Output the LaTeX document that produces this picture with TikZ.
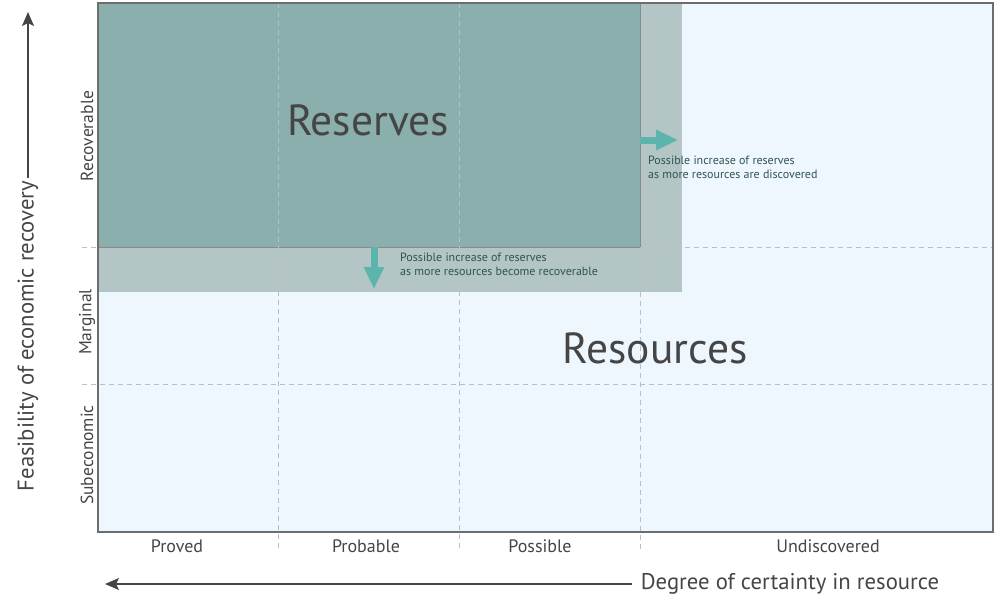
\documentclass[tikz,border=0pt]{standalone}
\usepackage{fontspec}
\setmainfont{PT Sans}
\usetikzlibrary{arrows.meta}
\definecolor{bgblue}{HTML}{EFF7FE}
\definecolor{resdark}{HTML}{8AAFAC}
\definecolor{reslight}{HTML}{B3C5C5}
\definecolor{frame}{HTML}{6B6D6E}
\definecolor{teal}{HTML}{5BB5AD}
\definecolor{annot}{HTML}{2F5550}
\definecolor{txt}{HTML}{454545}
\definecolor{grid}{HTML}{B8BEC2}
\tikzset{
  gridline/.style={draw=grid, dash pattern=on 5pt off 4pt, line width=0.8pt},
  collabel/.style={text=txt, font=\fontsize{18}{21}\selectfont},
  rowlabel/.style={text=txt, font=\fontsize{17.5}{21}\selectfont, rotate=90},
  axislabel/.style={text=txt, font=\fontsize{22.7}{26}\selectfont},
  biglabel/.style={text=txt, font=\fontsize{43.5}{50}\selectfont},
  annotation/.style={text=annot, font=\fontsize{12}{13.5}\selectfont, align=left, anchor=north west, inner sep=0pt},
  tealarrow/.style={draw=teal, line width=7pt, -{Triangle[width=19pt,length=22pt]}},
  axisarrow/.style={draw=txt, line width=1.3pt, -{Stealth[length=14pt,width=12pt,inset=3pt]}}
}
\begin{document}
\begin{tikzpicture}[x=1pt,y=-1pt]
\useasboundingbox (0,0) rectangle (1000,598);
% background
\fill[bgblue] (98,3) rectangle (993,532);
% reserves
\fill[reslight] (98,3) rectangle (682,292);
\fill[resdark] (98,3) rectangle (640,247);
\draw[frame!80, line width=1pt] (98,247) -- (640,247) -- (640,3);
% grid
\draw[gridline] (278,3) -- (278,550);
\draw[gridline] (459,3) -- (459,550);
\draw[gridline] (640,247) -- (640,550);
\draw[gridline] (82,247) -- (98,247);
\draw[gridline] (640,247) -- (993,247);
\draw[gridline] (82,384) -- (993,384);
% frame
\draw[frame, line width=1.3pt] (98,3) rectangle (993,532);
% big labels
\node[biglabel] (reserves) at (368,120) {Reserves};
\node[biglabel] (resources) at (655,348) {Resources};
% teal arrows
\coordinate (rs) at (640,140);
\coordinate (re) at (678,140);
\draw[tealarrow] (rs) -- (re);
\coordinate (ds) at (374,247);
\coordinate (de) at (374,289);
\draw[tealarrow] (ds) -- (de);
\node[annotation] (ann1) at (648,156) {Possible increase of reserves\\as more resources are discovered};
\node[annotation] (ann2) at (400,253) {Possible increase of reserves\\as more resources become recoverable};
% column labels
\node[collabel] (proved) at (177,546) {Proved};
\node[collabel] (probable) at (366,546) {Probable};
\node[collabel] (possible) at (540,546) {Possible};
\node[collabel] (undisc) at (828,546) {Undiscovered};
% row labels
\node[rowlabel] (recov) at (87,136) {Recoverable};
\node[rowlabel] (marg) at (87,322) {Marginal};
\node[rowlabel] (subec) at (87,455) {Subeconomic};
% axes
\node[axislabel, rotate=90, inner sep=3pt] (ylab) at (28,336) {Feasibility of economic recovery};
\coordinate (ytip) at (28,12);
\draw[axisarrow] (ylab.east) -- (ytip);
\node[axislabel, inner xsep=9pt, inner ysep=2pt] (xlab) at (790,584) {Degree of certainty in resource};
\coordinate (xtip) at (105,584);
\draw[axisarrow] (xlab.west) -- (xtip);
\end{tikzpicture}
\end{document}
